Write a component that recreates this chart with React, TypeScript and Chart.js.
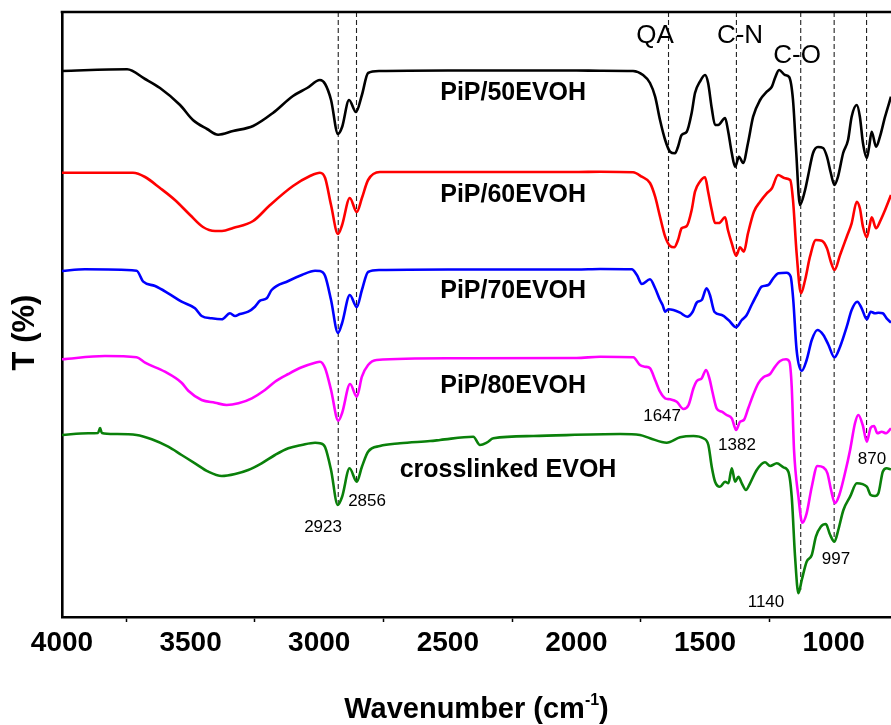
import React, { useEffect, useRef } from "react";
import { Chart, registerables } from "chart.js";

Chart.register(...registerables);

// Axis ranges (wavenumber axis is reversed; spectra are stacked with offsets, arbitrary T units)
const X_MIN = 777;
const X_MAX = 4000;
const Y_MIN = 0;
const Y_MAX = 605;

const tickValues = [4000, 3750, 3500, 3250, 3000, 2750, 2500, 2250, 2000, 1750, 1500, 1250, 1000];
const tickLabels = ["4000", "", "3500", "", "3000", "", "2500", "", "2000", "", "1500", "", "1000"];

// PiP/50EVOH
const pip50Wn = [4000, 3747, 3677, 3619, 3541, 3491, 3436, 3393, 3335, 3257, 3180, 3102, 3047, 2997, 2977, 2954, 2927, 2911, 2884, 2857, 2834, 2810, 2764, 2500, 2000, 1908, 1780, 1741, 1714, 1694, 1675, 1655, 1636, 1617, 1605, 1591, 1571, 1552, 1539, 1520, 1500, 1488, 1474, 1461, 1449, 1422, 1411, 1396, 1383, 1368, 1352, 1333, 1313, 1286, 1260, 1240, 1228, 1212, 1189, 1173, 1158, 1146, 1131, 1111, 1100, 1080, 1061, 1041, 1026, 1011, 997, 983, 963, 944, 930, 910, 898, 886, 871, 862, 852, 835, 820, 800, 777];
const pip50T = [546, 547.7, 538, 529, 512, 497, 488, 482.3, 486, 491, 504, 521, 529, 537, 533, 517, 483, 490, 517, 505, 522, 544, 546, 546.5, 546.5, 546.3, 546, 542, 534, 520.3, 497, 477, 465.3, 463.7, 470.3, 482, 485.3, 504, 524, 535.3, 542, 534, 509, 492, 492, 499, 487, 464, 450.3, 460.3, 454, 474, 500.3, 517, 525.3, 530.3, 539, 547, 542, 540, 517, 467, 412, 427, 440.3, 464, 470, 469, 460.3, 444, 432, 440.3, 464, 477, 500.3, 512, 500.3, 474, 459, 470.3, 485.3, 470.3, 480.3, 500.3, 520.3];

// PiP/60EVOH
const pip60Wn = [4000, 3724, 3677, 3619, 3561, 3502, 3452, 3405, 3378, 3335, 3257, 3191, 3102, 3036, 2997, 2977, 2954, 2927, 2911, 2881, 2854, 2834, 2810, 2764, 2500, 2000, 1908, 1780, 1746, 1714, 1694, 1675, 1655, 1636, 1620, 1605, 1591, 1571, 1552, 1539, 1520, 1500, 1488, 1474, 1461, 1446, 1422, 1411, 1396, 1379, 1364, 1349, 1333, 1310, 1286, 1260, 1240, 1216, 1189, 1169, 1158, 1144, 1127, 1111, 1092, 1069, 1046, 1026, 1011, 997, 975, 949, 930, 910, 898, 886, 871, 861, 852, 835, 820, 800, 777];
const pip60T = [444.3, 444.3, 440, 429, 417, 402, 390, 386, 386, 389, 396, 412, 431, 441, 444.3, 439, 412, 383, 392, 419, 405, 419, 437, 445, 445, 445, 445.3, 444.7, 440.3, 434, 420.3, 400.3, 380.3, 371, 369.7, 377, 388.7, 391, 407, 425.3, 435.3, 439.7, 425.3, 407, 394, 394, 399.7, 387, 373.7, 361.3, 369.7, 365.3, 383.7, 405.3, 415.3, 423.7, 428.7, 442, 438.7, 437, 417, 364, 323.7, 337, 360.3, 377, 376.3, 368.7, 355.3, 347, 362, 380.3, 393.7, 415.3, 408.7, 390.3, 379.7, 390.3, 399.7, 388.7, 395.3, 407, 422];

// PiP/70EVOH
const pip70Wn = [4000, 3911, 3710, 3684, 3638, 3587, 3535, 3483, 3457, 3418, 3379, 3347, 3327, 3308, 3276, 3250, 3230, 3204, 3185, 3120, 3068, 3016, 2997, 2977, 2954, 2927, 2911, 2881, 2854, 2834, 2810, 2764, 2500, 2000, 1908, 1785, 1765, 1746, 1714, 1694, 1675, 1665, 1655, 1643, 1623, 1597, 1569, 1548, 1532, 1513, 1494, 1481, 1463, 1435, 1409, 1379, 1357, 1338, 1319, 1299, 1280, 1254, 1235, 1215, 1183, 1167, 1157, 1144, 1124, 1105, 1085, 1063, 1040, 1020, 997, 975, 949, 930, 908, 891, 871, 856, 839, 826, 809, 794, 777];
const pip70T = [346, 347.7, 346.3, 335.3, 331, 323.7, 315.3, 308.7, 301, 298.7, 297.7, 303.7, 301, 303, 305.3, 310.3, 316.3, 318.7, 327, 336, 342, 346.3, 346, 341, 317, 284, 294, 322, 310, 327, 345, 347, 347.5, 347.5, 348, 347.7, 342, 333, 337.7, 328.7, 317, 312, 305.3, 307.7, 307, 304.3, 300.3, 305.3, 314.5, 317, 328.7, 322, 305, 302, 297, 289.7, 297, 302, 312, 322, 330.3, 332, 338.7, 343.7, 344.3, 340.3, 317, 267, 246.3, 257, 277, 287, 282, 272, 259.7, 270.3, 290.3, 307, 315.3, 308.7, 297.7, 305.3, 303.7, 304.3, 303.7, 298.7, 294.3];

// PiP/80EVOH
const pip80Wn = [4000, 3833, 3710, 3677, 3600, 3535, 3509, 3457, 3405, 3360, 3314, 3262, 3211, 3172, 3120, 3068, 3016, 2997, 2977, 2954, 2926, 2911, 2880, 2854, 2834, 2810, 2777, 2500, 2000, 1908, 1779, 1753, 1733, 1714, 1694, 1675, 1655, 1636, 1610, 1584, 1564, 1545, 1532, 1513, 1496, 1483, 1470, 1455, 1435, 1416, 1396, 1379, 1364, 1349, 1332, 1313, 1293, 1273, 1247, 1228, 1208, 1185, 1172, 1163, 1154, 1137, 1122, 1105, 1085, 1063, 1040, 1024, 1010, 995, 978, 956, 936, 917, 904, 887, 871, 856, 843, 830, 813, 796, 777];
const pip80T = [257.7, 261, 259.7, 254.3, 245.3, 234.3, 226.3, 217, 214.3, 212, 213.7, 218.7, 227, 235.3, 243, 249.7, 254.3, 255.3, 248.7, 227, 196.3, 204, 233, 220.3, 240.3, 252, 257, 258.7, 259, 260.3, 259.7, 252, 250.3, 248.7, 237, 225.3, 218.7, 217.7, 215.3, 208, 212, 228.7, 236, 238.7, 247, 238.7, 223.7, 208.7, 205.3, 202, 198.7, 187, 195.3, 197, 208.7, 222, 233.7, 239.7, 243, 250.3, 256, 257.7, 255.3, 230.3, 167, 120.3, 94.3, 103.7, 130.3, 151, 149.7, 143.7, 127, 113.7, 122, 143.7, 167, 193.7, 202, 192, 175.3, 189.3, 191, 183.7, 185.3, 183.7, 188.7];

// crosslinked EVOH
const xlinkWn = [4000, 3898, 3860, 3852, 3845, 3794, 3710, 3651, 3587, 3535, 3483, 3431, 3379, 3327, 3276, 3224, 3172, 3120, 3068, 3016, 2997, 2977, 2954, 2928, 2911, 2882, 2854, 2834, 2810, 2764, 2686, 2569, 2530, 2401, 2375, 2349, 2323, 2168, 1830, 1753, 1714, 1649, 1597, 1545, 1507, 1487, 1474, 1461, 1442, 1422, 1409, 1396, 1383, 1370, 1357, 1341, 1325, 1299, 1267, 1247, 1221, 1195, 1176, 1163, 1150, 1137, 1124, 1105, 1085, 1069, 1050, 1030, 1015, 997, 982, 962, 936, 910, 871, 856, 839, 826, 809, 794, 777];
const xlinkT = [182, 183.7, 184, 189, 184, 183, 182, 177.7, 170.3, 162, 153.7, 145.3, 141, 143, 147, 153.7, 162, 168.7, 172, 174.3, 173.7, 169.7, 147, 112, 120.3, 148.7, 135.3, 150.3, 165.3, 171, 173.7, 176, 177, 180.3, 172, 174.3, 178.7, 181, 183, 182, 178.7, 174.3, 179.7, 181, 178.7, 172, 150.3, 135.3, 130.3, 135.3, 133.7, 148.7, 135.3, 140.3, 133.7, 127, 133.7, 147, 154.7, 151, 153.7, 149.7, 145.3, 120.3, 60.3, 23.7, 37, 55.3, 62, 80.3, 90.3, 93, 83, 75.3, 87, 107, 120.3, 133.7, 130.3, 122, 121, 123.7, 145.3, 148.7, 147.7];

const seriesNames = ["PiP/50EVOH", "PiP/60EVOH", "PiP/70EVOH", "PiP/80EVOH", "crosslinked EVOH"];
const seriesColors = ["#000000", "#ff0000", "#0000ff", "#ff00ff", "#0a800a"];
const seriesWn = [pip50Wn, pip60Wn, pip70Wn, pip80Wn, xlinkWn];
const seriesT = [pip50T, pip60T, pip70T, pip80T, xlinkT];
// series name label anchor (wavenumber, T)
const nameLabelWn = [2246, 2246, 2246, 2246, 2266];
const nameLabelT = [517, 415, 319, 224, 140];

// dashed peak guide lines (from the top of the plot down to these T values)
const markerWn = [2926, 2855, 1642, 1378, 1128, 998, 872];
const markerEndT = [112, 136, 222, 187, 27, 77, 174];

// peak value labels
const peakTexts = ["2923", "2856", "1647", "1382", "1140", "997", "870"];
const peakTextWn = [2985, 2814, 1667, 1376, 1263, 991, 851];
const peakTextT = [85, 111, 196, 167, 10, 53, 153];

// band group labels
const groupTexts = ["QA", "C-N", "C-O"];
const groupTextWn = [1694, 1364, 1142];
const groupTextT = [574, 574, 554];

const FONT = "'Liberation Sans', Arial, Helvetica, sans-serif";

export default function App() {
  const ref = useRef<HTMLCanvasElement>(null);

  useEffect(() => {
    document.body.style.margin = "0";
    const canvas = ref.current;
    if (!canvas) return;

    const toPoints = (wn: number[], t: number[]) => {
      const n = Math.min(wn.length, t.length);
      const pts: { x: number; y: number }[] = [];
      for (let i = 0; i < n; i++) pts.push({ x: wn[i], y: t[i] });
      return pts;
    };

    const datasets: any[] = seriesNames.map((name, i) => ({
      label: name,
      data: toPoints(seriesWn[i], seriesT[i]),
      borderColor: seriesColors[i],
      backgroundColor: seriesColors[i],
      borderWidth: 2.6,
      pointRadius: 0,
      tension: 0.35,
      cubicInterpolationMode: "monotone",
      fill: false,
    }));
    markerWn.forEach((w, i) => {
      datasets.push({
        label: "",
        data: [
          { x: w, y: Y_MAX },
          { x: w, y: markerEndT[i] },
        ],
        borderColor: "#222222",
        borderWidth: 1.1,
        borderDash: [5, 3],
        pointRadius: 0,
        fill: false,
      });
    });

    const annotations = {
      id: "annotations",
      afterDraw(chart: any) {
        const { ctx, chartArea } = chart;
        const xs = chart.scales.x;
        const ys = chart.scales.y;
        ctx.save();
        // top frame line
        ctx.strokeStyle = "#000";
        ctx.lineWidth = 2.6;
        ctx.beginPath();
        ctx.moveTo(chartArea.left - 1.3, chartArea.top);
        ctx.lineTo(chartArea.right, chartArea.top);
        ctx.stroke();

        ctx.fillStyle = "#000";
        ctx.textBaseline = "alphabetic";
        ctx.textAlign = "center";
        // series names
        ctx.font = `bold 25px ${FONT}`;
        seriesNames.forEach((name, i) => {
          ctx.fillText(name, xs.getPixelForValue(nameLabelWn[i]), ys.getPixelForValue(nameLabelT[i]));
        });
        // peak labels
        ctx.font = `17px ${FONT}`;
        peakTexts.forEach((t, i) => {
          ctx.fillText(t, xs.getPixelForValue(peakTextWn[i]), ys.getPixelForValue(peakTextT[i]));
        });
        // group labels
        ctx.font = `26px ${FONT}`;
        groupTexts.forEach((t, i) => {
          ctx.fillText(t, xs.getPixelForValue(groupTextWn[i]), ys.getPixelForValue(groupTextT[i]));
        });

        // x axis title with superscript
        const main = "Wavenumber (cm";
        const sup = "-1";
        const close = ")";
        const big = `bold 29px ${FONT}`;
        const small = `bold 16px ${FONT}`;
        ctx.font = big;
        const wMain = ctx.measureText(main).width;
        const wClose = ctx.measureText(close).width;
        ctx.font = small;
        const wSup = ctx.measureText(sup).width;
        const total = wMain + wSup + wClose;
        const cx = (chartArea.left + chartArea.right) / 2;
        const base = chartArea.bottom + 101;
        let x0 = cx - total / 2;
        ctx.textAlign = "left";
        ctx.font = big;
        ctx.fillText(main, x0, base);
        x0 += wMain;
        ctx.font = small;
        ctx.fillText(sup, x0, base - 13);
        x0 += wSup;
        ctx.font = big;
        ctx.fillText(close, x0, base);

        // y axis title
        ctx.save();
        ctx.translate(34, (chartArea.top + chartArea.bottom) / 2 + 18);
        ctx.rotate(-Math.PI / 2);
        ctx.textAlign = "center";
        ctx.font = `bold 31px ${FONT}`;
        ctx.fillText("T (%)", 0, 0);
        ctx.restore();

        ctx.restore();
      },
    };

    const chart = new Chart(canvas, {
      type: "line",
      data: { datasets },
      options: {
        animation: false,
        responsive: false,
        maintainAspectRatio: false,
        layout: { padding: { top: 12, left: 0, right: 0, bottom: 0 } },
        plugins: {
          legend: { display: false },
          tooltip: { enabled: false },
        },
        scales: {
          x: {
            type: "linear",
            reverse: true,
            min: X_MIN,
            max: X_MAX,
            afterBuildTicks: (s: any) => {
              s.ticks = tickValues.map((v) => ({ value: v }));
            },
            afterFit: (s: any) => {
              s.height = 108;
            },
            ticks: {
              autoSkip: false,
              maxRotation: 0,
              padding: 4,
              color: "#000",
              font: { family: FONT, size: 28, weight: "bold" },
              callback: (v: any) => {
                const i = tickValues.indexOf(Number(v));
                return i >= 0 ? tickLabels[i] : "";
              },
            },
            grid: {
              display: true,
              drawOnChartArea: false,
              drawTicks: true,
              tickLength: 5,
              tickWidth: 1.5,
              tickColor: (c: any) => {
                const v = c.tick ? c.tick.value : 0;
                const i = tickValues.indexOf(v);
                return i >= 0 && tickLabels[i] === "" ? "#000" : "rgba(0,0,0,0)";
              },
            },
            border: { display: true, color: "#000", width: 2.6 },
          },
          y: {
            type: "linear",
            min: Y_MIN,
            max: Y_MAX,
            afterBuildTicks: (s: any) => {
              s.ticks = [];
            },
            afterFit: (s: any) => {
              s.width = 62;
            },
            ticks: { display: false },
            grid: { display: false },
            border: { display: true, color: "#000", width: 2.6 },
          },
        },
      },
      plugins: [annotations],
    } as any);

    return () => chart.destroy();
  }, []);

  return <canvas ref={ref} width={891} height={725} style={{ display: "block" }} />;
}
